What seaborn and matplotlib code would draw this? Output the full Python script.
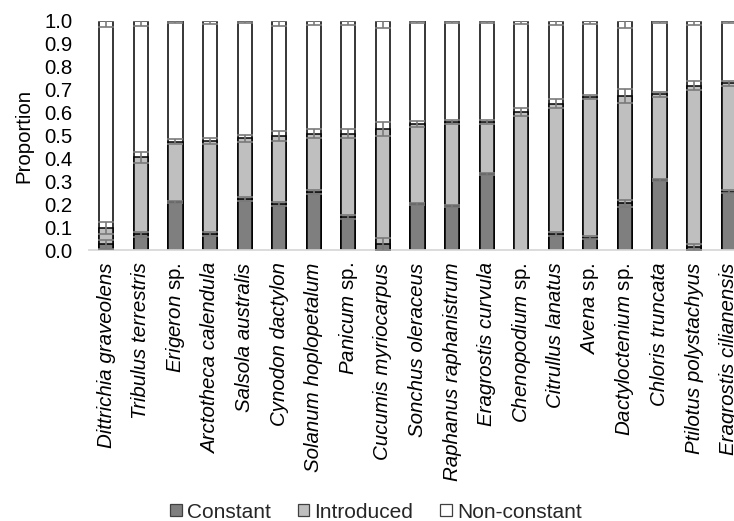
import numpy as np
import pandas as pd
import matplotlib
matplotlib.use("Agg")
import matplotlib.pyplot as plt
import seaborn as sns
from matplotlib.patches import Patch

# Species (x categories)
species = [
    "Dittrichia graveolens", "Tribulus terrestris", "Erigeron sp.",
    "Arctotheca calendula", "Salsola australis", "Cynodon dactylon",
    "Solanum hoplopetalum", "Panicum sp.", "Cucumis myriocarpus",
    "Sonchus oleraceus", "Raphanus raphanistrum", "Eragrostis curvula",
    "Chenopodium sp.", "Citrullus lanatus", "Avena sp.",
    "Dactyloctenium sp.", "Chloris truncata", "Ptilotus polystachyus",
    "Eragrostis cilianensis",
]

# Proportion of each class per species
constant = [0.025, 0.068, 0.211, 0.070, 0.223, 0.201, 0.252, 0.144, 0.026,
            0.200, 0.191, 0.332, 0.000, 0.070, 0.054, 0.204, 0.304, 0.014, 0.255]
introduced = [0.072, 0.337, 0.262, 0.406, 0.265, 0.297, 0.255, 0.364, 0.504,
              0.352, 0.368, 0.227, 0.601, 0.569, 0.614, 0.470, 0.376, 0.703, 0.473]
non_constant = [0.903, 0.595, 0.527, 0.524, 0.512, 0.502, 0.493, 0.492, 0.470,
                0.448, 0.441, 0.441, 0.399, 0.361, 0.332, 0.326, 0.320, 0.283, 0.272]

# Standard errors of each class
constant_se = [0.020, 0.011, 0.005, 0.007, 0.007, 0.010, 0.009, 0.010, 0.025,
               0.005, 0.005, 0.003, 0.000, 0.010, 0.006, 0.015, 0.004, 0.012, 0.008]
introduced_se = [0.026, 0.023, 0.011, 0.015, 0.015, 0.022, 0.020, 0.021, 0.030,
                 0.013, 0.009, 0.007, 0.018, 0.020, 0.010, 0.030, 0.010, 0.020, 0.012]
non_constant_se = [0.025, 0.020, 0.010, 0.013, 0.010, 0.020, 0.017, 0.017, 0.032,
                   0.010, 0.010, 0.007, 0.012, 0.017, 0.012, 0.030, 0.007, 0.017, 0.010]

y_ticks = [0.0, 0.1, 0.2, 0.3, 0.4, 0.5, 0.6, 0.7, 0.8, 0.9, 1.0]

classes = ["Constant", "Introduced", "Non-constant"]
colors = {"Constant": "#7f7f7f", "Introduced": "#bfbfbf", "Non-constant": "#ffffff"}

sns.set_theme(style="white")
plt.rcParams["font.family"] = ["Liberation Sans", "DejaVu Sans"]
plt.rcParams["mathtext.fontset"] = "custom"
plt.rcParams["mathtext.rm"] = "Liberation Sans"
plt.rcParams["mathtext.it"] = "Liberation Sans:italic"
plt.rcParams["mathtext.bf"] = "Liberation Sans:bold"


def species_label(name):
    """Genus/species in italics; a trailing 'sp.' stays upright."""
    if name.endswith(" sp."):
        genus = name[:-4]
        return r"$\mathit{" + genus + r"}$ sp.", "normal"
    return name, "italic"


df = pd.DataFrame({
    "species": species,
    "Constant": constant,
    "Introduced": introduced,
    "Non-constant": non_constant,
})
df["top_c"] = df["Constant"]
df["top_i"] = df["Constant"] + df["Introduced"]
df["top_n"] = df["top_i"] + df["Non-constant"]

fig = plt.figure(figsize=(7.34, 5.21), dpi=100)
ax = fig.add_axes([89 / 734, 1 - 250 / 521, 657 / 734, 229 / 521])

bar_kw = dict(order=species, width=0.41, edgecolor="black", linewidth=1.1,
              saturation=1, errorbar=None, ax=ax)
# Draw cumulative totals back to front so the segments stack
sns.barplot(data=df, x="species", y="top_n", color=colors["Non-constant"], **bar_kw)
sns.barplot(data=df, x="species", y="top_i", color=colors["Introduced"], **bar_kw)
sns.barplot(data=df, x="species", y="top_c", color=colors["Constant"], **bar_kw)

pos = np.arange(len(species))
err_kw = dict(fmt="none", ecolor="#7a7a7a", elinewidth=1.2, capsize=5.5,
              capthick=1.2, zorder=5)
c_se = np.array(constant_se)
mask = c_se > 0
ax.errorbar(pos[mask], df["top_c"].values[mask], yerr=c_se[mask], **err_kw)
ax.errorbar(pos, df["top_i"].values, yerr=introduced_se, **err_kw)
n_se = np.array(non_constant_se)
ax.errorbar(pos, df["top_n"].values, yerr=[n_se, np.zeros_like(n_se)], **err_kw)

ax.set_xlim(-0.5, len(species) - 0.5)
ax.set_ylim(0, 1.0)
ax.set_yticks(y_ticks)
ax.set_yticklabels([f"{v:.1f}" for v in y_ticks], fontsize=14.7, color="#000000")
ax.set_ylabel("Proportion", fontsize=14.7, color="#000000")
ax.yaxis.set_label_coords(-0.085, 0.5)
ax.set_xlabel("")
ax.set_xticks(pos)
labels = [species_label(n) for n in species]
ax.set_xticklabels([t for t, _ in labels], rotation=90, fontsize=14.8,
                   color="#000000", ha="center", va="top")
for lbl, (_, style) in zip(ax.get_xticklabels(), labels):
    lbl.set_fontstyle(style)

ax.tick_params(axis="y", length=0, pad=12)
ax.tick_params(axis="x", length=0, pad=9)
for side in ["left", "top", "right"]:
    ax.spines[side].set_visible(False)
ax.spines["bottom"].set_color("#d9d9d9")
ax.spines["bottom"].set_linewidth(1.3)

handles = [Patch(facecolor=colors[c], edgecolor="#404040", linewidth=0.9, label=c)
           for c in classes]
fig.legend(handles=handles, loc="center", bbox_to_anchor=(376 / 734, 1 - 512 / 521),
           ncol=3, frameon=False, fontsize=15, handlelength=0.55, handleheight=0.55,
           handletextpad=0.25, columnspacing=1.3, borderpad=0)

fig.savefig("out.png", dpi=100)
